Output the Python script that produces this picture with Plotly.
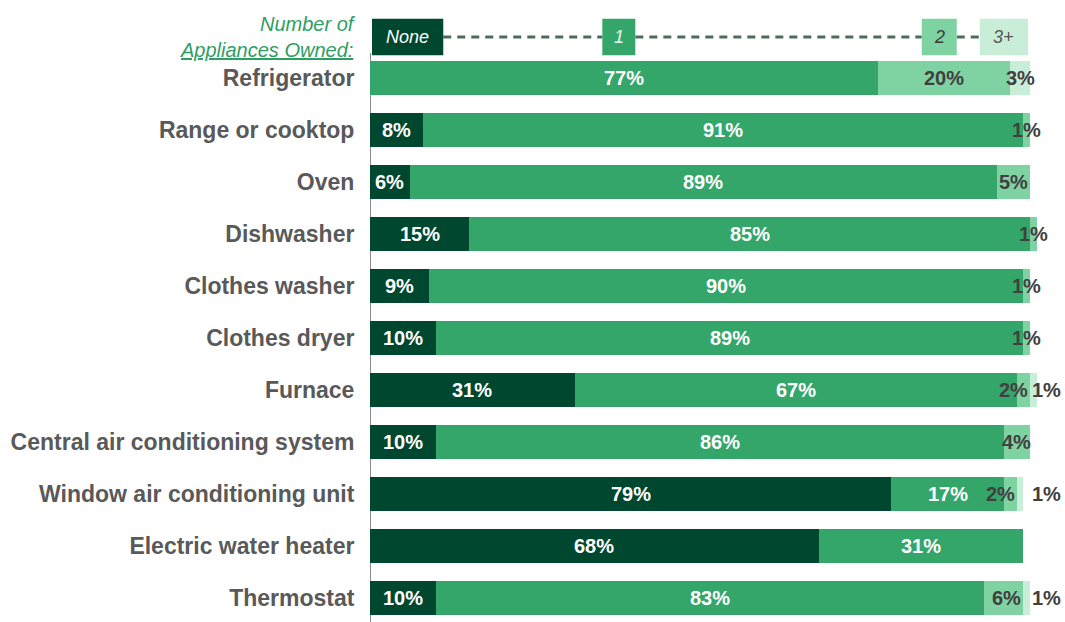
import plotly.graph_objects as go

categories = [
    "Refrigerator", "Range or cooktop", "Oven", "Dishwasher", "Clothes washer",
    "Clothes dryer", "Furnace", "Central air conditioning system",
    "Window air conditioning unit", "Electric water heater", "Thermostat",
]
none_pct = [0, 8, 6, 15, 9, 10, 31, 10, 79, 68, 10]
one_pct = [77, 91, 89, 85, 90, 89, 67, 86, 17, 31, 83]
two_pct = [20, 1, 5, 1, 1, 1, 2, 4, 2, 0, 6]
three_plus_pct = [3, 0, 0, 0, 0, 0, 1, 0, 1, 0, 1]

series_names = ["None", "1", "2", "3+"]
series_values = [none_pct, one_pct, two_pct, three_plus_pct]
colors = ["#00472f", "#35a66a", "#7fd3a2", "#c9eed8"]
label_colors = ["white", "white", "#404040", "#404040"]

FONT = "Liberation Sans, Arial, sans-serif"
W, H = 1065, 622
ML, MR = 370, 12
PX_PER_PCT = 6.6
plot_w = W - ML - MR
x_max = plot_w / PX_PER_PCT

rows = list(range(len(categories)))

fig = go.Figure()
for name, vals, col in zip(series_names, series_values, colors):
    fig.add_trace(go.Bar(
        y=rows, x=vals, name=name, orientation="h",
        marker=dict(color=col, line=dict(width=0)),
        width=0.65, showlegend=False, hoverinfo="skip",
    ))

# segment value labels
annotations = []
for i in rows:
    start = 0
    for s, vals in enumerate(series_values):
        v = vals[i]
        if v == 0:
            continue
        x, anchor, color = start + v / 2, "center", label_colors[s]
        if s == 2 and 0 < three_plus_pct[i] <= 1:
            x, anchor = start + v, "right"
        if s == 3 and v <= 1:
            x, anchor, color = 100, "left", "#404040"
        annotations.append(dict(
            x=x, y=i, xref="x", yref="y", text=f"<b>{v}%</b>", showarrow=False,
            xanchor=anchor, yanchor="middle",
            font=dict(family=FONT, size=20, color=color),
        ))
        start += v

# header key: number of appliances owned
key_y = -0.79
annotations.append(dict(
    x=(358 - ML) / plot_w, y=key_y, xref="paper", yref="y",
    text="<i>Number of<br><u>Appliances Owned:</u></i>",
    showarrow=False, xanchor="right", yanchor="middle", align="right",
    font=dict(family=FONT, size=20, color="#2e9e63"),
))

shapes = []
key_boxes = [(0.3, 11.1, "None"), (35.2, 40.2, "1"), (83.6, 88.9, "2"), (92.4, 99.7, "3+")]
key_text_colors = ["white", "#e8f7ee", "#3a3a3a", "#555555"]
for j in range(len(key_boxes) - 1):
    shapes.append(dict(
        type="line", xref="x", yref="y", x0=key_boxes[j][1], x1=key_boxes[j + 1][0],
        y0=key_y, y1=key_y, line=dict(color="#4b6e5c", width=3, dash="8px,6px"),
        layer="below",
    ))
for (x0, x1, label), col, tcol in zip(key_boxes, colors, key_text_colors):
    shapes.append(dict(
        type="rect", xref="x", yref="y", x0=x0, x1=x1, y0=key_y - 0.35, y1=key_y + 0.35,
        fillcolor=col, line=dict(width=0),
    ))
    annotations.append(dict(
        x=(x0 + x1) / 2, y=key_y, xref="x", yref="y", text=f"<i>{label}</i>", showarrow=False,
        font=dict(family=FONT, size=18, color=tcol),
    ))

# vertical baseline
shapes.append(dict(
    type="line", xref="x", yref="y", x0=0, x1=0, y0=-0.48, y1=10.46,
    line=dict(color="#8a8a8a", width=2), layer="below",
))

fig.update_layout(
    width=W, height=H,
    margin=dict(l=ML, r=MR, t=0, b=0),
    plot_bgcolor="white", paper_bgcolor="white",
    barmode="stack", bargap=0,
    font=dict(family=FONT),
    xaxis=dict(range=[0, x_max], visible=False, fixedrange=True),
    yaxis=dict(
        range=[10.46, -1.5], tickvals=rows, ticktext=[f"<b>{c}</b>" for c in categories],
        showgrid=False, zeroline=False, showline=False,
        ticks="outside", ticklen=10, tickcolor="rgba(0,0,0,0)",
        tickfont=dict(family=FONT, size=23, color="#595959"),
    ),
    annotations=annotations, shapes=shapes,
)

fig.write_html("out.html")
